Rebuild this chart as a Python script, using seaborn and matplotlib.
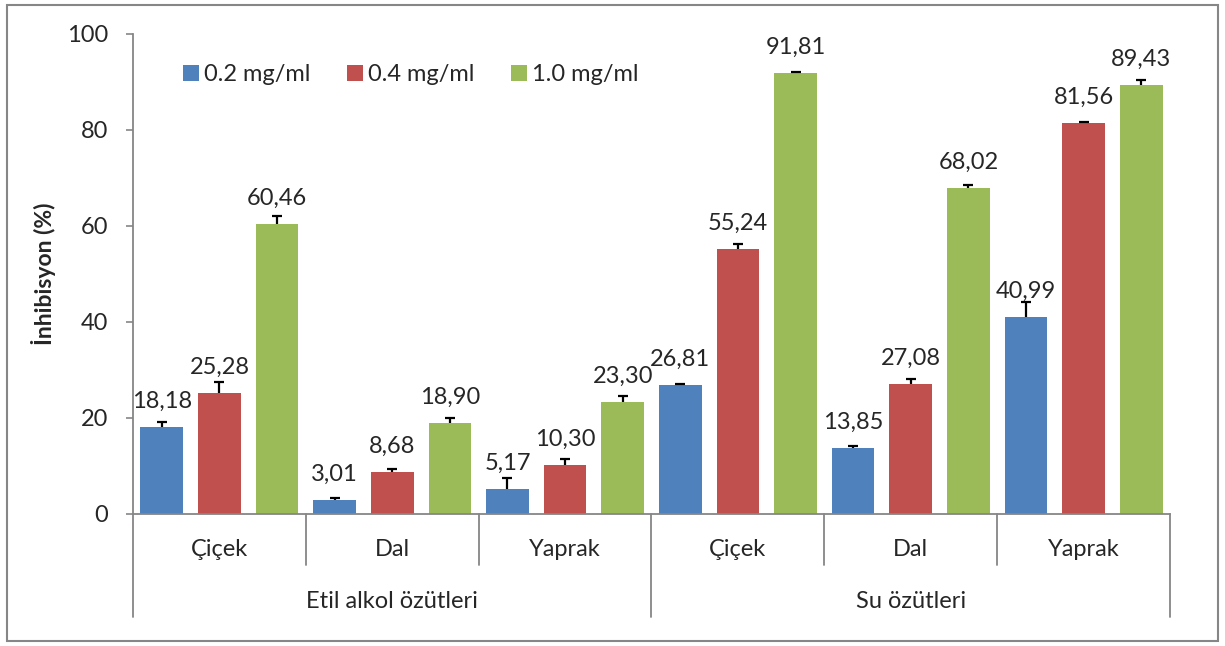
import matplotlib
matplotlib.use("Agg")
import matplotlib.pyplot as plt
import matplotlib.transforms as mtransforms
from matplotlib.patches import Rectangle
import numpy as np
import pandas as pd
import seaborn as sns

# ── data ──────────────────────────────────────────────────────────────────
groups = ["Etil alkol özütleri", "Su özütleri"]
parts = ["Çiçek", "Dal", "Yaprak"]
concs = ["0.2 mg/ml", "0.4 mg/ml", "1.0 mg/ml"]

val_02 = [18.18, 3.01, 5.17, 26.81, 13.85, 40.99]
val_04 = [25.28, 8.68, 10.30, 55.24, 27.08, 81.56]
val_10 = [60.46, 18.90, 23.30, 91.81, 68.02, 89.43]

err_02 = [1.0, 0.3, 2.3, 0.2, 0.3, 3.1]
err_04 = [2.2, 0.6, 1.1, 1.0, 1.1, 0.2]
err_10 = [1.7, 1.1, 1.25, 0.2, 0.6, 1.0]

colors = ["#4F81BD", "#C0504D", "#9BBB59"]
yticks = [0, 20, 40, 60, 80, 100]

FS = 17

# ── tidy table ────────────────────────────────────────────────────────────
cats = [f"{g}|{p}" for g in groups for p in parts]
rows = []
for conc, vals, errs in zip(concs, [val_02, val_04, val_10],
                            [err_02, err_04, err_10]):
    for c, v, e in zip(cats, vals, errs):
        rows.append({"cat": c, "conc": conc, "value": v, "err": e})
df = pd.DataFrame(rows)

# ── plot ──────────────────────────────────────────────────────────────────
sns.set_style("white")
plt.rcParams["font.family"] = ["Lato", "DejaVu Sans"]

fig = plt.figure(figsize=(12.25, 6.46), dpi=100)
ax = fig.add_axes([133 / 1225, 1 - 514 / 646, 1037 / 1225, 480 / 646])

sns.barplot(data=df, x="cat", y="value", hue="conc", order=cats,
            hue_order=concs, palette=colors, width=1.0, gap=0.26,
            errorbar=None, ax=ax, saturation=1, edgecolor="none")

for container, conc in zip(ax.containers, concs):
    sub = df[df["conc"] == conc].set_index("cat").loc[cats]
    xs = [b.get_x() + b.get_width() / 2 for b in container]
    _, caps, _ = ax.errorbar(xs, sub["value"],
                             yerr=[np.zeros(len(xs)), sub["err"]],
                             fmt="none", ecolor="black", elinewidth=1.6,
                             capsize=3.8, capthick=1.6, zorder=3)
    caps[0].remove()  # Excel style: upper cap only
    for x, v in zip(xs, sub["value"]):
        ax.annotate(f"{v:.2f}".replace(".", ","), (x, v),
                    xytext=(0, 19), textcoords="offset pixels",
                    ha="center", va="baseline", fontsize=FS)

ax.set_ylim(0, 100)
ax.set_xlim(-0.5, len(cats) - 0.5)
ax.set_yticks(yticks)
ax.set_yticklabels([str(t) for t in yticks], fontsize=FS)
ax.set_xticks([])
ax.set_xlabel("")
ax.set_ylabel("İnhibisyon (%)", fontsize=16.5, fontweight="bold", labelpad=8)
ax.tick_params(axis="y", left=True, length=5, color="#868686", width=1.2,
               pad=13)
for side in ["top", "right"]:
    ax.spines[side].set_visible(False)
for side in ["left", "bottom"]:
    ax.spines[side].set_color("#868686")
    ax.spines[side].set_linewidth(1.3)

# hierarchical category axis
trans = mtransforms.blended_transform_factory(ax.transData, ax.transAxes)
px = 1 / 480  # one pixel in axes height units
for i, c in enumerate(cats):
    ax.text(i, -35 * px, c.split("|")[1], transform=trans, ha="center",
            va="center", fontsize=FS)
for b in range(len(cats) + 1):
    x = b - 0.5
    depth = 103 if b % len(parts) == 0 else 51
    ax.plot([x, x], [0, -depth * px], transform=trans, color="#868686",
            lw=1.3, clip_on=False)
for gi, g in enumerate(groups):
    xc = gi * len(parts) + (len(parts) - 1) / 2
    ax.text(xc, -87 * px, g, transform=trans, ha="center", va="center",
            fontsize=FS)

ax.legend(loc="center left", bbox_to_anchor=(0.028, 0.915), ncol=3,
          frameon=False, fontsize=FS, handlelength=0.68, handleheight=0.68,
          handletextpad=0.2, columnspacing=1.55)

# outer chart border
fig.patches.append(Rectangle((7 / 1225, 5 / 646), 1211 / 1225, 636 / 646,
                             transform=fig.transFigure, fill=False,
                             edgecolor="#868686", lw=1.5))

fig.savefig("out.png", dpi=100)
